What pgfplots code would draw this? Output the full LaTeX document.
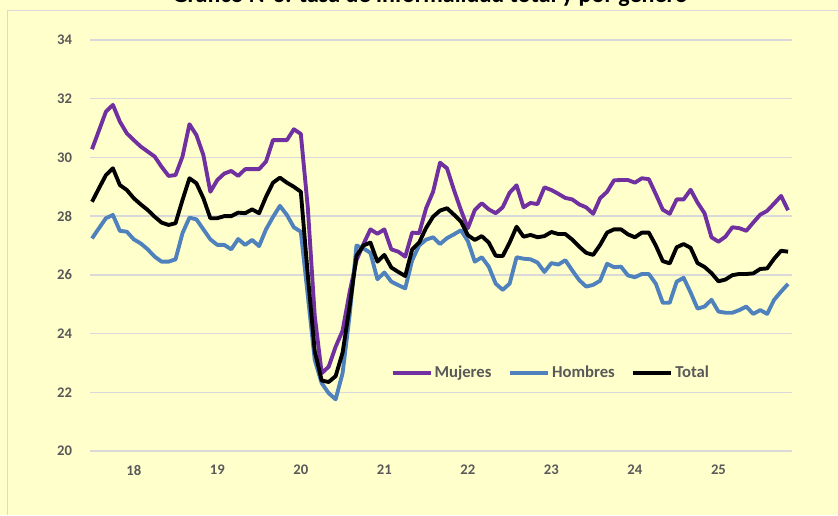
\documentclass[border=0pt]{standalone}
\usepackage{fontspec}
\setmainfont{Carlito}
\usepackage{pgfplots}
\usepackage{pgfplotstable}
\pgfplotsset{compat=1.18}
\definecolor{bg}{HTML}{FFFFCC}
\definecolor{mujer}{HTML}{7030A0}
\definecolor{hombre}{HTML}{4F81BD}
\definecolor{gridc}{HTML}{D9D9D9}
\definecolor{txt}{HTML}{595959}
\pgfplotstableread{
m h t
30.28 27.24 28.49
30.92 27.59 28.95
31.56 27.93 29.40
31.79 28.04 29.63
31.22 27.50 29.06
30.82 27.47 28.89
30.59 27.21 28.61
30.37 27.07 28.40
30.20 26.87 28.21
30.03 26.62 27.98
29.68 26.45 27.78
29.37 26.45 27.70
29.40 26.53 27.76
30.03 27.42 28.55
31.13 27.95 29.29
30.76 27.89 29.12
30.08 27.55 28.61
28.83 27.21 27.93
29.23 27.02 27.93
29.45 27.02 28.00
29.54 26.87 28.00
29.37 27.22 28.12
29.60 27.02 28.10
29.60 27.19 28.23
29.60 26.98 28.10
29.86 27.55 28.66
30.59 27.97 29.14
30.59 28.35 29.31
30.59 28.04 29.14
30.96 27.62 29.00
30.80 27.47 28.83
28.30 25.30 26.00
24.60 23.10 23.40
22.65 22.31 22.40
22.87 21.97 22.35
23.55 21.76 22.55
24.10 22.65 23.35
25.40 24.60 24.90
26.50 27.00 26.65
27.05 26.90 27.00
27.55 26.75 27.10
27.40 25.85 26.45
27.55 26.08 26.68
26.87 25.77 26.25
26.79 25.65 26.10
26.62 25.54 25.96
27.44 26.50 26.87
27.42 27.00 27.10
28.27 27.20 27.60
28.83 27.28 27.98
29.82 27.05 28.19
29.63 27.25 28.27
28.89 27.38 28.05
28.21 27.52 27.82
27.59 27.15 27.35
28.21 26.45 27.19
28.44 26.60 27.32
28.23 26.28 27.10
28.10 25.70 26.65
28.30 25.49 26.64
28.80 25.70 27.10
29.05 26.60 27.64
28.30 26.55 27.30
28.45 26.53 27.36
28.41 26.42 27.28
28.98 26.10 27.32
28.89 26.40 27.46
28.76 26.35 27.39
28.62 26.50 27.39
28.57 26.15 27.20
28.40 25.82 26.96
28.30 25.60 26.75
28.08 25.66 26.68
28.61 25.80 27.02
28.83 26.38 27.44
29.22 26.26 27.55
29.23 26.28 27.55
29.23 25.98 27.38
29.14 25.92 27.28
29.29 26.03 27.44
29.26 26.03 27.44
28.75 25.70 27.00
28.22 25.05 26.47
28.08 25.05 26.39
28.57 25.77 26.94
28.57 25.90 27.05
28.90 25.40 26.92
28.46 24.85 26.40
28.10 24.92 26.27
27.28 25.15 26.06
27.13 24.75 25.78
27.30 24.71 25.84
27.62 24.71 25.99
27.59 24.80 26.03
27.50 24.92 26.03
27.78 24.67 26.05
28.05 24.80 26.20
28.18 24.67 26.22
28.43 25.15 26.55
28.69 25.43 26.82
28.20 25.69 26.79
}\datatable
\begin{document}
\begin{tikzpicture}
\fill[bg] (0,0) rectangle (628.5pt,386.25pt);
\draw[gridc, line width=1.1pt] (5.5pt,0) -- (5.5pt,378.5pt) -- (628.5pt,378.5pt);
\node[anchor=base, inner sep=0pt, font=\bfseries\fontsize{18}{21}\selectfont] at (322.5pt,384.4pt) {Gráfico N°3: tasa de informalidad total y por género};
\begin{axis}[
  at={(67.5pt,48pt)}, anchor=south west,
  scale only axis, width=526.5pt, height=308.25pt,
  xmin=-0.29, xmax=100.57, ymin=20, ymax=34,
  ytick={20,22,...,34},
  xtick={6,18,30,42,54,66,78,90},
  xticklabels={18,19,20,21,22,23,24,25},
  axis line style={draw=none},
  tick style={draw=none},
  major tick length=0pt,
  ymajorgrids,
  grid style={gridc, line width=1.1pt},
  /pgf/number format/assume math mode=true,
  ticklabel style={font=\bfseries\fontsize{11}{13}\selectfont, text=txt},
  yticklabel style={xshift=-10pt},
  xticklabel style={yshift=-7pt},
  legend columns=3,
  legend style={at={(0.428,0.1905)}, anchor=west, draw=none, fill=none,
    inner sep=0pt, font=\bfseries\fontsize{12.5}{15}\selectfont, text=txt,
    nodes={inner sep=1.5pt},
    /tikz/every even column/.append style={column sep=11pt}},
  legend image code/.code={\draw[#1] (0pt,0pt) -- (28.5pt,0pt);},
  every axis plot/.append style={line width=2.9pt, line join=round, mark=none},
]
\addplot[mujer] table[x expr=\coordindex, y=m] {\datatable};
\addlegendentry{Mujeres}
\addplot[hombre] table[x expr=\coordindex, y=h] {\datatable};
\addlegendentry{Hombres}
\addplot[black] table[x expr=\coordindex, y=t] {\datatable};
\addlegendentry{Total}
\end{axis}
\pgfresetboundingbox
\path[use as bounding box] (0,0) rectangle (628.5pt,386.25pt);
\end{tikzpicture}
\end{document}
